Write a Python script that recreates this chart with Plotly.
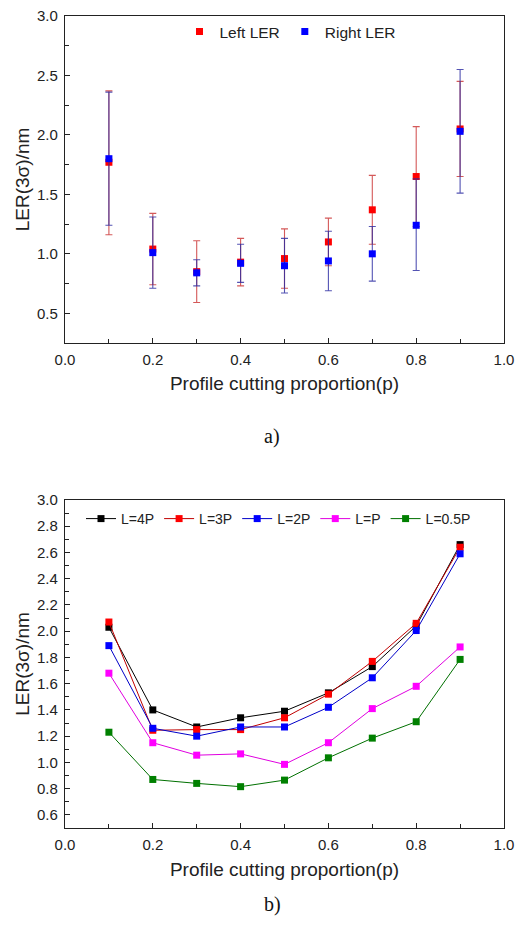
import plotly.graph_objects as go

# ---------- data ----------
p = [0.1, 0.2, 0.3, 0.4, 0.5, 0.6, 0.7, 0.8, 0.9]

left_ler = [1.77, 1.04, 0.85, 0.93, 0.96, 1.10, 1.37, 1.65, 2.05]
left_hi = [2.37, 1.34, 1.11, 1.13, 1.21, 1.30, 1.66, 2.07, 2.45]
left_lo = [1.16, 0.74, 0.59, 0.73, 0.71, 0.90, 1.08, 1.23, 1.65]

right_ler = [1.80, 1.01, 0.84, 0.92, 0.90, 0.94, 1.00, 1.24, 2.03]
right_hi = [2.36, 1.31, 0.95, 1.08, 1.13, 1.19, 1.23, 1.63, 2.55]
right_lo = [1.24, 0.71, 0.73, 0.76, 0.67, 0.69, 0.77, 0.86, 1.51]

series_names = ["L=4P", "L=3P", "L=2P", "L=P", "L=0.5P"]
l4p = [2.03, 1.40, 1.27, 1.34, 1.39, 1.53, 1.73, 2.04, 2.66]
l3p = [2.07, 1.245, 1.25, 1.25, 1.34, 1.52, 1.77, 2.06, 2.64]
l2p = [1.89, 1.26, 1.20, 1.27, 1.27, 1.42, 1.645, 2.005, 2.59]
lp = [1.68, 1.15, 1.055, 1.065, 0.985, 1.15, 1.41, 1.58, 1.88]
l05p = [1.23, 0.87, 0.84, 0.815, 0.865, 1.035, 1.185, 1.31, 1.785]
series_values = [l4p, l3p, l2p, lp, l05p]

x_tick_vals = [0.0, 0.2, 0.4, 0.6, 0.8, 1.0]
x_tick_text = ["0.0", "0.2", "0.4", "0.6", "0.8", "1.0"]
y1_tick_vals = [0.5, 1.0, 1.5, 2.0, 2.5, 3.0]
y1_tick_text = ["0.5", "1.0", "1.5", "2.0", "2.5", "3.0"]
y2_tick_vals = [0.6, 0.8, 1.0, 1.2, 1.4, 1.6, 1.8, 2.0, 2.2, 2.4, 2.6, 2.8, 3.0]
y2_tick_text = ["%.1f" % v for v in y2_tick_vals]

# ---------- style ----------
FONT = "Arial, Liberation Sans, sans-serif"
SERIF = "Times New Roman, Liberation Serif, serif"
line_colors = ["#000000", "#c00000", "#0000c8", "#e000e0", "#007000"]
marker_colors = ["#000000", "#ff0000", "#0000ff", "#ff00ff", "#008000"]

# the page body adds an 8px offset; the figure fills the rest of the window
W, H = 520, 922
OFF = 8


def px(sx):
    return (sx - OFF) / W


def py(sy):
    return 1 - (sy - OFF) / H


fig = go.Figure()

# top panel
fig.add_trace(go.Scatter(
    x=p, y=left_ler, mode="markers", name="Left LER",
    marker=dict(symbol="square", size=7, color="#ff0000"),
    error_y=dict(type="data", symmetric=False,
                 array=[h - v for h, v in zip(left_hi, left_ler)],
                 arrayminus=[v - l for v, l in zip(left_ler, left_lo)],
                 color="rgba(205,60,60,0.85)", thickness=1.1, width=3.5),
    xaxis="x", yaxis="y", legend="legend"))
fig.add_trace(go.Scatter(
    x=p, y=right_ler, mode="markers", name="Right LER",
    marker=dict(symbol="square", size=7, color="#0000ff"),
    error_y=dict(type="data", symmetric=False,
                 array=[h - v for h, v in zip(right_hi, right_ler)],
                 arrayminus=[v - l for v, l in zip(right_ler, right_lo)],
                 color="rgba(40,40,160,0.8)", thickness=1.1, width=3.5),
    xaxis="x", yaxis="y", legend="legend"))

# bottom panel
for name, vals, lc, mc in zip(series_names, series_values, line_colors, marker_colors):
    fig.add_trace(go.Scatter(
        x=p, y=vals, mode="lines+markers", name=name,
        line=dict(color=lc, width=1),
        marker=dict(symbol="square", size=7, color=mc),
        xaxis="x2", yaxis="y2", legend="legend2"))

axis_common = dict(
    showline=True, linecolor="#222", linewidth=1.2, mirror=True,
    ticks="inside", ticklen=5, tickcolor="#222", tickwidth=1,
    showgrid=False, zeroline=False, automargin=False,
    ticklabeloverflow="allow",
    tickfont=dict(family=FONT, size=15, color="#222"),
)
title_font = dict(family=FONT, size=19, color="#222")

x_domain = [px(65), px(504)]

fig.update_layout(
    width=W, height=H, autosize=False,
    margin=dict(l=0, r=0, t=0, b=0),
    paper_bgcolor="white", plot_bgcolor="white",
    font=dict(family=FONT, color="#222"),
    xaxis=dict(domain=x_domain, anchor="y", range=[0, 1],
               tickvals=x_tick_vals, ticktext=x_tick_text,
               minor=dict(ticks="inside", dtick=0.1, tick0=0, ticklen=4, tickcolor="#222"),
               ticklabelstandoff=3,
               title=dict(text="Profile cutting proportion(p)", standoff=9, font=title_font),
               **axis_common),
    yaxis=dict(domain=[py(343), py(16)], anchor="x", range=[0.25, 3.0],
               tickvals=y1_tick_vals, ticktext=y1_tick_text,
               minor=dict(ticks="inside", dtick=0.25, tick0=0, ticklen=4, tickcolor="#222"),
               ticklabelstandoff=3,
               title=dict(text="LER(3σ)/nm", standoff=2, font=title_font),
               **axis_common),
    xaxis2=dict(domain=x_domain, anchor="y2", range=[0, 1],
                tickvals=x_tick_vals, ticktext=x_tick_text,
                minor=dict(ticks="inside", dtick=0.1, tick0=0, ticklen=4, tickcolor="#222"),
                ticklabelstandoff=3,
                title=dict(text="Profile cutting proportion(p)", standoff=10, font=title_font),
                **axis_common),
    yaxis2=dict(domain=[py(828), py(500)], anchor="x2", range=[0.5, 3.0],
                tickvals=y2_tick_vals, ticktext=y2_tick_text,
                minor=dict(ticks="inside", dtick=0.1, tick0=0, ticklen=4, tickcolor="#222"),
                ticklabelstandoff=3,
                title=dict(text="LER(3σ)/nm", standoff=2, font=title_font),
                **axis_common),
    legend=dict(orientation="h", x=px(290), xanchor="center", y=py(32), yanchor="middle",
                bgcolor="rgba(0,0,0,0)", font=dict(family=FONT, size=15.5, color="#222")),
    legend2=dict(orientation="h", x=px(81), xanchor="left", y=py(519), yanchor="middle",
                 bgcolor="rgba(0,0,0,0)", font=dict(family=FONT, size=14, color="#222"),
                 itemwidth=30),
    annotations=[
        dict(text="a)", x=px(272), y=py(437), xref="paper", yref="paper",
             showarrow=False, font=dict(family=SERIF, size=20, color="#111")),
        dict(text="b)", x=px(272), y=py(918), xref="paper", yref="paper",
             showarrow=False, font=dict(family=SERIF, size=20, color="#111")),
    ],
)

fig.write_html("out.html")
